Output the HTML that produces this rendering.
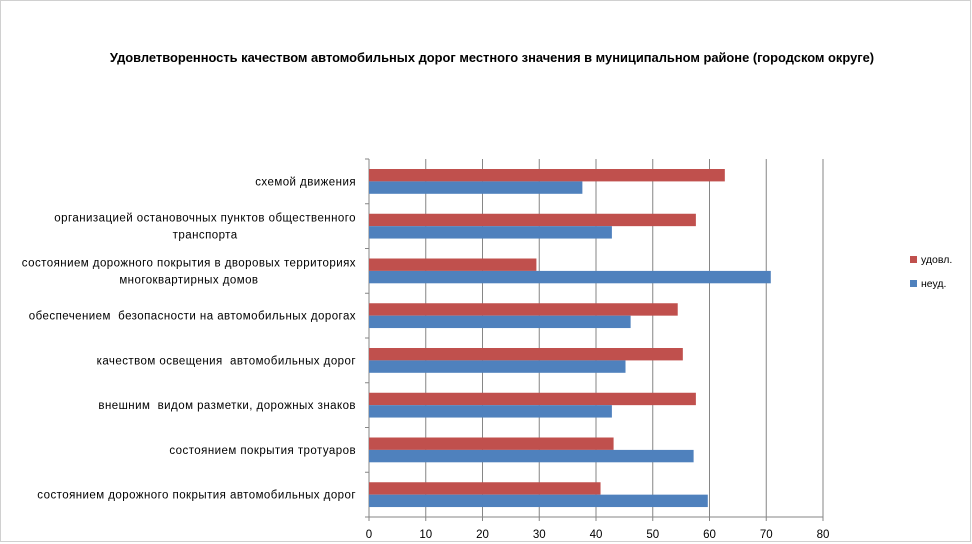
<!DOCTYPE html>
<html><head><meta charset="utf-8"><style>
body{margin:0;background:#fff}
svg{display:block;font-family:"Liberation Sans","DejaVu Sans",sans-serif}
</style></head><body>
<svg id="c" width="972" height="544">
<rect x="0.5" y="0.5" width="970" height="541" fill="#fff" stroke="#d0d0d0"/>
<text x="492" y="62" text-anchor="middle" font-size="12.9" font-weight="bold">Удовлетворенность качеством автомобильных дорог местного значения в муниципальном районе (городском округе)</text>
<g id="grid"></g><g id="bars"></g><g id="labels"></g>
<g>
<rect x="910" y="256" width="7" height="7" fill="#c0504d"/>
<text x="921" y="263" font-size="10.5">удовл.</text>
<rect x="910" y="280" width="7" height="7" fill="#4f81bd"/>
<text x="921" y="287" font-size="10.5">неуд.</text>
</g>
</svg>
<script>
const categories=[["схемой движения"],["организацией остановочных пунктов общественного","транспорта"],["состоянием дорожного покрытия в дворовых территориях","многоквартирных домов"],["обеспечением  безопасности на автомобильных дорогах"],["качеством освещения  автомобильных дорог"],["внешним  видом разметки, дорожных знаков"],["состоянием покрытия тротуаров"],["состоянием дорожного покрытия автомобильных дорог"]];
const udovl=[62.7,57.6,29.5,54.4,55.3,57.6,43.1,40.8];
const neud=[37.6,42.8,70.8,46.1,45.2,42.8,57.2,59.7];
const ticks=[0,10,20,30,40,50,60,70,80];
const NS="http://www.w3.org/2000/svg";
const x0=369,x1=823,yT=159,yB=517,max=80;
const xs=v=>x0+(x1-x0)*v/max;
const ch=(yB-yT)/categories.length;
function mk(t,a,p){const e=document.createElementNS(NS,t);for(const k in a)e.setAttribute(k,a[k]);p.appendChild(e);return e;}
const g=document.getElementById('grid'),b=document.getElementById('bars'),l=document.getElementById('labels');
ticks.forEach(t=>{
 const e=mk('line',{x1:xs(t),x2:xs(t),y1:yT,y2:yB+4,stroke:'#868686','stroke-width':1},g);
 
 
 const tx=mk('text',{x:xs(t),y:yB+21,'text-anchor':'middle','font-size':'11.5'},g);
 tx.textContent=t;
 
 
});
const ax=mk('line',{x1:x0,x2:x1,y1:yB,y2:yB,stroke:'#868686'},g);


for(let i=0;i<=categories.length;i++){
 const tk=mk('line',{x1:x0-4,x2:x0,y1:yT+i*ch,y2:yT+i*ch,stroke:'#868686'},g);
 
 
}
const groups=[];
categories.forEach((c,i)=>{
 const top=yT+i*ch+10,bh=12.4;
 const r=mk('rect',{x:x0,y:top,width:xs(udovl[i])-x0,height:bh,fill:'#c0504d'},b);
 
 
 const n=mk('rect',{x:x0,y:top+bh,width:xs(neud[i])-x0,height:bh,fill:'#4f81bd'},b);
 
 
 const cy=yT+i*ch+ch/2+4;
 const ts=[];
 c.forEach((line,j)=>{
  const t=mk('text',{x:356,y:cy+(j-(c.length-1)/2)*17,'text-anchor':c.length>1?'middle':'end','font-size':'11.5','letter-spacing':'0.45',style:'white-space:pre'},l);
  t.textContent=line;
  
  
  ts.push(t);
 });
 if(c.length>1)groups.push(ts);
});
groups.forEach(ts=>{
 const w=Math.max(...ts.map(s=>s.getComputedTextLength()));
 ts.forEach(t=>t.setAttribute('x',356-w/2));
});
</script>
</body></html>
